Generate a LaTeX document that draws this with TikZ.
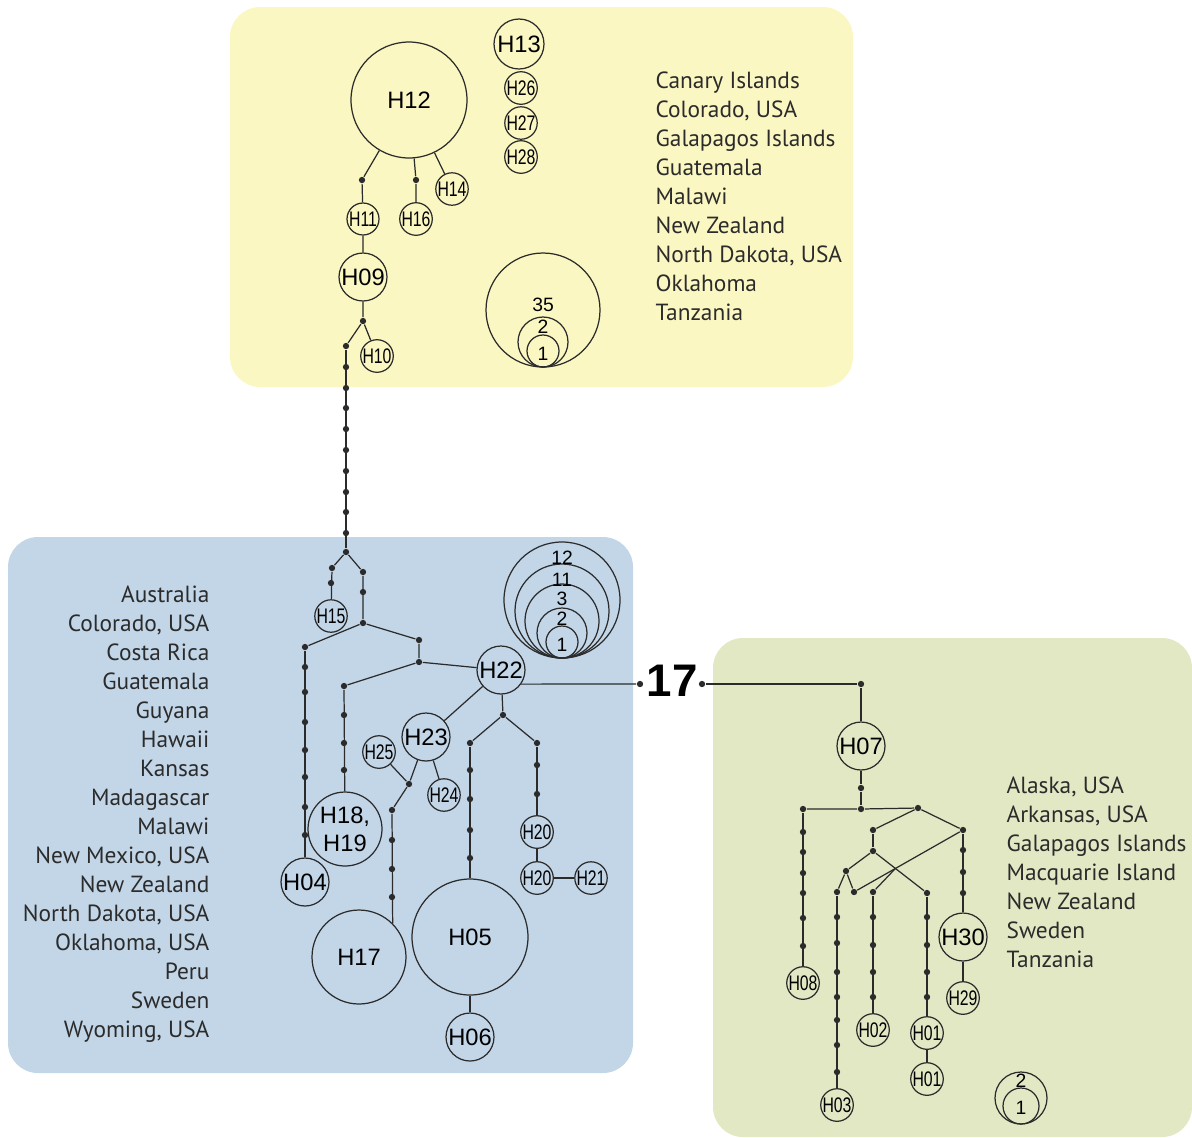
\documentclass[tikz,border=0pt]{standalone}
\usepackage{fontspec}
\setmainfont{PT Sans}
\newfontfamily\hapfont{Liberation Sans}
\newfontfamily\hapnarrow[FakeStretch=0.75]{Liberation Sans}
\definecolor{yel}{HTML}{FBF7C3}
\definecolor{blu}{HTML}{C2D6E8}
\definecolor{grn}{HTML}{E3E8C4}
\definecolor{ln}{HTML}{2B2B2B}
\usetikzlibrary{calc}

\begin{document}
\begin{tikzpicture}[x=0.02cm, y=-0.02cm, line width=0.7pt, draw=ln,
	hap/.style={circle, draw=ln, inner sep=0pt, font=\hapfont\fontsize{13.5}{16}\selectfont},
	hs/.style={hap, minimum size=0.64cm, font=\hapnarrow\fontsize{12}{12}\selectfont},
	hm/.style={hap, minimum size=0.96cm},
	mv/.style={circle, fill=ln, inner sep=0pt, minimum size=3.6pt},
	ctry/.style={font=\fontsize{13.3}{15}\selectfont, inner sep=0pt, text=ln},
	num/.style={font=\hapfont\fontsize{11}{11}\selectfont, inner sep=0pt}]
	\useasboundingbox (0,0) rectangle (1192,1137);
	\fill[yel, rounded corners=0.6cm] (230,7) rectangle (853,387);
	\fill[blu, rounded corners=0.6cm] (8,537) rectangle (633,1073);
	\fill[grn, rounded corners=0.6cm] (713,638) rectangle (1192,1137);
	%yellow group
	\node[hap, minimum size=2.32cm] (h12) at (409,100) {H12};
	\node[hap, minimum size=1cm] (h13) at (519,44) {H13};
	\node[hs] (h26) at (521,88) {H26};
	\node[hs] (h27) at (521,123) {H27};
	\node[hs] (h28) at (521,157) {H28};
	\node[hs] (h14) at (452,189) {H14};
	\node[hs] (h16) at (416,219) {H16};
	\node[hs] (h11) at (363,219) {H11};
	\node[hm] (h09) at (363,277) {H09};
	\node[hs] (h10) at (377,356) {H10};
	\node[mv] (y1) at (362,180) {};
	\node[mv] (y2) at (416,180) {};
	\node[mv] (y3) at (363,321) {};
	\node[mv] (y4) at (346,346) {};
	\draw (h12) -- (y1) -- (h11) -- (h09) -- (y3) -- (h10);
	\draw (h12) -- (y2) -- (h16);
	\draw (h12) -- (h14);
	\draw (y3) -- (y4);
	\foreach \y [count=\k] in {367,388,408,429,450,471,492,512,533}
	\node[mv] (c\k) at (346,\y) {};
	\node[mv] (bb) at (346,552) {};
	\draw (y4) -- (bb);
	%legend
	\coordinate (lgy) at (543,367);
	\foreach \r in {57,25,16}
	\draw ([yshift=\r*0.02cm]lgy) circle[radius=\r*0.02cm];
	\node[num] (ly35) at (543,305) {35};
	\node[num] (ly2) at (543,327) {2};
	\node[num] (ly1) at (543,354) {1};
	\foreach \t [count=\k from 0] in {Canary Islands, {Colorado, USA}, Galapagos Islands, Guatemala, Malawi, New Zealand, {North Dakota, USA}, Oklahoma, Tanzania}
	\node[ctry, anchor=base west] (yl\k) at (655,{88+29*\k}) {\t};
	%blue group
	\node[mv] (b1) at (332,568) {};
	\node[mv] (b2) at (331,583) {};
	\node[hs] (h15) at (331,616) {H15};
	\node[mv] (b3) at (363,572) {};
	\node[mv] (b4) at (363,592) {};
	\node[mv] (j1) at (363,623) {};
	\draw (bb) -- (b1) -- (h15);
	\draw (bb) -- (b3) -- (j1);
	\node[mv] (b5) at (305,647) {};
	\node[mv] (b6) at (419,640) {};
	\node[mv] (j2) at (419,662) {};
	\draw (b5) -- (j1) -- (b6) -- (j2);
	\node[hm] (h22) at (501,670) {H22};
	\node[mv] (b7) at (344,686) {};
	\draw (b7) -- (j2) -- (h22);
	\foreach \y [count=\k] in {667,692,722,750,777,807,835}
	\node[mv] (p\k) at (305,\y) {};
	\node[hm] (h04) at (305,882) {H04};
	\draw (b5) -- (h04);
	\foreach \y [count=\k] in {715,743,770}
	\node[mv] (q\k) at (344,\y) {};
	\node[hap, minimum size=1.48cm, align=center, font=\hapfont\fontsize{13.5}{16}\selectfont] (h18) at (345,829) {H18,\\H19};
	\draw (b7) -- (h18);
	\node[hm] (h23) at (426,737) {H23};
	\node[hs] (h25) at (379,752) {H25};
	\node[hs] (h24) at (444,795) {H24};
	\node[mv] (b8) at (409,784) {};
	\node[mv] (b9) at (392,810) {};
	\draw (h22) -- (h23) -- (b8) -- (b9);
	\draw (h25) -- (b8);
	\draw (h23) -- (h24);
	\foreach \y [count=\k] in {840,869,897}
	\node[mv] (r\k) at (392,\y) {};
	\node[hap, minimum size=1.88cm] (h17) at (359,957) {H17};
	\draw (b9) -- (h17.45);
	\node[mv] (b10) at (503,715) {};
	\node[mv] (b11) at (470,743) {};
	\node[mv] (b12) at (537,743) {};
	\draw (h22) -- (b10);
	\draw (b11) -- (b10) -- (b12);
	\foreach \y [count=\k] in {770,799,830,858}
	\node[mv] (s\k) at (470,\y) {};
	\node[hap, minimum size=2.32cm] (h05) at (470,937) {H05};
	\node[hm] (h06) at (470,1037) {H06};
	\draw (b11) -- (h05) -- (h06);
	\foreach \y [count=\k] in {765,794}
	\node[mv] (t\k) at (537,\y) {};
	\node[hs] (h20a) at (537,832) {H20};
	\node[hs] (h20b) at (537,878) {H20};
	\node[hs] (h21) at (591,878) {H21};
	\draw (b12) -- (h20a) -- (h20b) -- (h21);
	%legend
	\coordinate (lgb) at (562,658);
	\foreach \r in {58,47,37,25,16}
	\draw ([yshift=\r*0.02cm]lgb) circle[radius=\r*0.02cm];
	\node[num] (lb12) at (562,558) {12};
	\node[num] (lb11) at (562,580) {11};
	\node[num] (lb3) at (562,599) {3};
	\node[num] (lb2) at (562,619) {2};
	\node[num] (lb1) at (562,645) {1};
	\foreach \t [count=\k from 0] in {Australia, {Colorado, USA}, Costa Rica, Guatemala, Guyana, Hawaii, Kansas, Madagascar, Malawi, {New Mexico, USA}, New Zealand, {North Dakota, USA}, {Oklahoma, USA}, Peru, Sweden, {Wyoming, USA}}
	\node[ctry, anchor=base east] (bl\k) at (210,{602+29*\k}) {\t};
	%link
	\node[mv] (k1) at (640,684) {};
	\node[font=\hapfont\bfseries\fontsize{26}{26}\selectfont, inner sep=0pt] (k17) at (672,681) {17};
	\node[mv] (k2) at (702,684) {};
	\node[mv] (g0) at (861,684) {};
	\node[hm] (h07) at (861,746) {H07};
	\draw (h22.-35) -- (k1);
	\draw (k2) -- (g0) -- (h07);
	%green group
	\node[mv] (g1) at (861,788) {};
	\node[mv] (g2) at (861,809) {};
	\node[mv] (g3) at (803,809) {};
	\node[mv] (g4) at (918,808) {};
	\node[mv] (g5) at (963,830) {};
	\node[mv] (g6) at (873,830) {};
	\node[mv] (g7) at (873,851) {};
	\node[mv] (g8) at (846,871) {};
	\node[mv] (g9) at (927,893) {};
	\node[mv] (g10) at (837,892) {};
	\node[mv] (g11) at (854,892) {};
	\node[mv] (g12) at (873,892) {};
	\draw (h07) -- (g1) -- (g2);
	\draw (g3) -- (g2) -- (g4);
	\draw (g6) -- (g4) -- (g5);
	\draw (g6) -- (g7);
	\draw (g8) -- (g7) -- (g9);
	\draw (g10) -- (g8) -- (g11) -- (g5);
	\coordinate (gx) at (intersection of g7--g9 and g11--g5);
	\draw (g12) -- (gx);
	\foreach \y [count=\k] in {832,852,873,893,918,946}
	\node[mv] (u\k) at (803,\y) {};
	\node[hs] (h08) at (803,983) {H08};
	\draw (g3) -- (h08);
	\foreach \y [count=\k] in {917,943,972,997,1020,1045,1072}
	\node[mv] (v\k) at (837,\y) {};
	\node[hs] (h03) at (837,1105) {H03};
	\draw (g10) -- (h03);
	\foreach \y [count=\k] in {917,945,972,997}
	\node[mv] (w\k) at (873,\y) {};
	\node[hs] (h02) at (873,1030) {H02};
	\draw (g12) -- (h02);
	\foreach \y [count=\k] in {917,945,972,997}
	\node[mv] (z\k) at (927,\y) {};
	\node[hs] (h01a) at (927,1033) {H01};
	\node[hs] (h01b) at (927,1079) {H01};
	\draw (g9) -- (h01a) -- (h01b);
	\foreach \y [count=\k] in {850,872,893}
	\node[mv] (x\k) at (963,\y) {};
	\node[hm] (h30) at (963,937) {H30};
	\node[hs] (h29) at (963,998) {H29};
	\draw (g5) -- (h30) -- (h29);
	%legend
	\coordinate (lgg) at (1021,1124);
	\foreach \r in {26,18}
	\draw ([yshift=\r*0.02cm]lgg) circle[radius=\r*0.02cm];
	\node[num] (lg2) at (1021,1081) {2};
	\node[num] (lg1) at (1021,1108) {1};
	\foreach \t [count=\k from 0] in {{Alaska, USA}, {Arkansas, USA}, Galapagos Islands, Macquarie Island, New Zealand, Sweden, Tanzania}
	\node[ctry, anchor=base west] (gl\k) at (1006,{793+29*\k}) {\t};
\end{tikzpicture}
\end{document}
